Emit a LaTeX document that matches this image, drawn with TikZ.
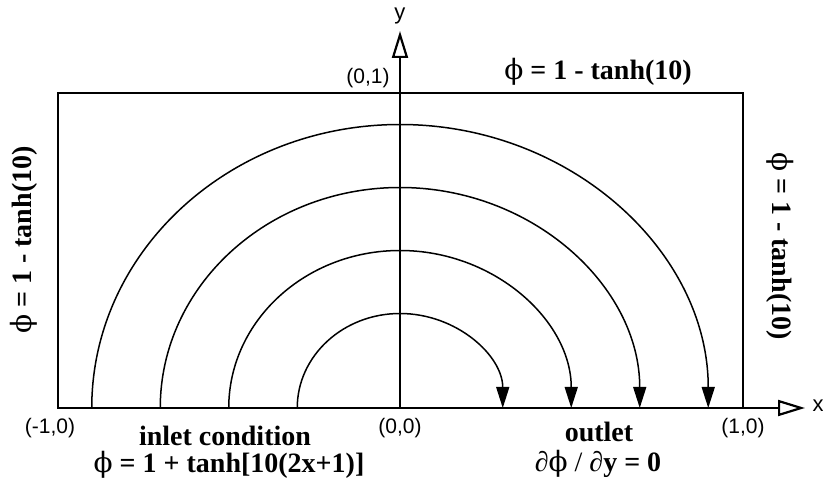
\documentclass[tikz,border=0pt]{standalone}
\usepackage{fontspec}
\setmainfont{Liberation Serif}
\setsansfont{Liberation Sans}
\newfontfamily\symf{DejaVu Serif}
\usetikzlibrary{arrows.meta}
\newcommand{\phis}{{\symf\mdseries ϕ}}
\tikzset{
  frame/.style={line width=1.5pt},
  arcline/.style={line width=1.5pt,-{Triangle[length=21pt,width=13pt]}},
  axis/.style={line width=2.2pt,-{Triangle[open,length=27pt,width=16pt,line width=2.2pt]}},
  coordlbl/.style={font=\sffamily\fontsize{21}{21}\selectfont,inner sep=0pt},
  boldlbl/.style={font=\bfseries\fontsize{28}{28}\selectfont,inner sep=0pt},
}
\begin{document}
\begin{tikzpicture}[x=1pt,y=1pt]
\useasboundingbox (-400,-73) rectangle (423,408);
% domain
\draw[frame] (-342,0) rectangle (343,315);
\coordinate (O) at (0,0);
\coordinate (Ytip) at (0,377);
\coordinate (Xtip) at (405,0);
% semicircles (ellipses in picture units)
\foreach \r in {0.3,0.5,0.7,0.9}{
  \draw[arcline] ({-\r*342.5},0) arc[start angle=180,end angle=0,x radius={\r*342.5},y radius={\r*315}];
}
% axes
\draw[axis] (O) -- (Ytip);
\draw[line width=2.8pt] (O) -- (377,0);
\draw[axis] (O) -- (Xtip);
\node[coordlbl,font=\sffamily\fontsize{22}{22}\selectfont] (ylbl) at (0,392) {y};
\node[coordlbl,font=\sffamily\fontsize{22}{22}\selectfont] (xlbl) at (418,2) {x};
\node[coordlbl] (p01) at (-32,330) {(0,1)};
\node[coordlbl] (pm10) at (-350,-20) {(-1,0)};
\node[coordlbl] (p00) at (0,-20) {(0,0)};
\node[coordlbl] (p10) at (343,-20) {(1,0)};
\node[boldlbl,anchor=base] (inlet) at (-175,-38) {inlet condition};
\node[boldlbl,anchor=base] (inleteq) at (-171,-65) {\phis{} = 1 + tanh[10(2x+1)]};
\node[boldlbl,anchor=base] (outlet) at (199,-34) {outlet};
\node[boldlbl,anchor=base] (outleteq) at (198,-64) {{\mdseries∂}\phis{} {\mdseries/} {\mdseries∂}y = 0};
\node[boldlbl] (top) at (198,336) {\phis{} = 1 - tanh(10)};
\node[boldlbl,rotate=90] (left) at (-376,168) {\phis{} = 1 - tanh(10)};
\node[boldlbl,rotate=-90] (right) at (380,162) {\phis{} = 1 - tanh(10)};
\end{tikzpicture}
\end{document}
